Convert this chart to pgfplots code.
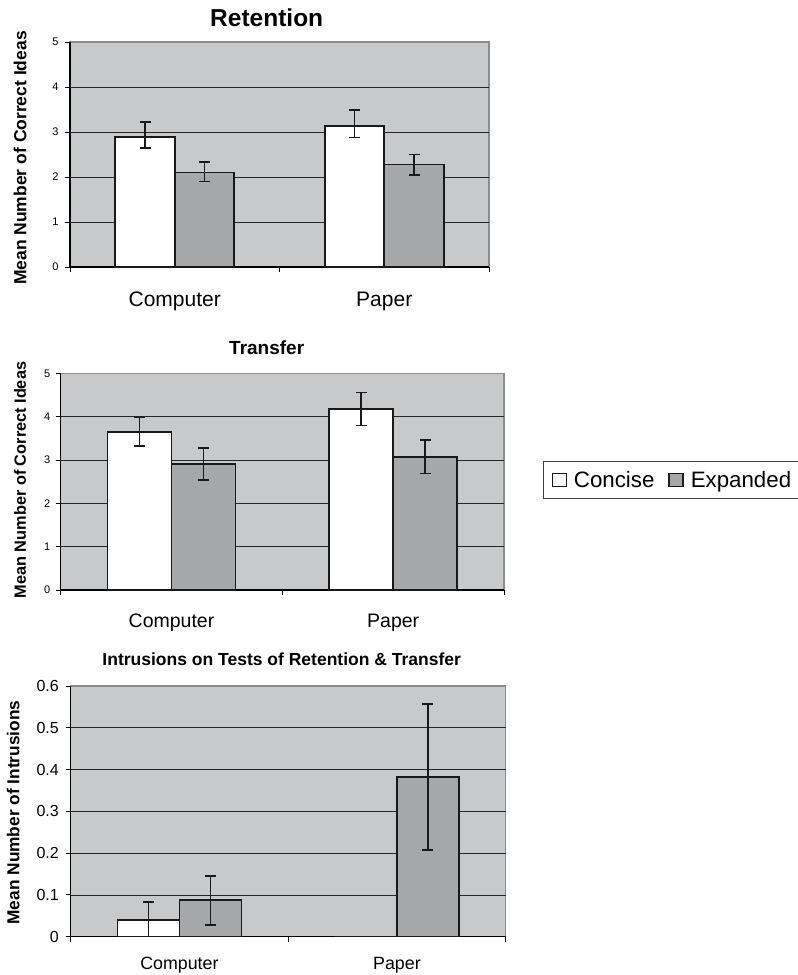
\documentclass[border=0pt]{standalone}
\usepackage{fontspec}
\setmainfont{Liberation Sans}
\usepackage{pgfplots}
\pgfplotsset{compat=1.18}
\definecolor{bgc}{RGB}{200,201,203}
\definecolor{expc}{RGB}{166,167,169}
\definecolor{framec}{RGB}{140,140,140}
\newcommand{\fs}[1]{\fontsize{#1}{#1}\selectfont}
\begin{document}
\begin{tikzpicture}
\path[use as bounding box] (0pt,0pt) rectangle (798pt,-975pt);
\pgfplotsset{
  panel/.style={
    scale only axis,
    anchor=south west,
    xmin=-0.5, xmax=1.5,
    ymin=0,
    ybar=0pt,
    axis background/.style={fill=bgc, draw=framec, line width=1.3pt},
    axis x line*=bottom, axis y line*=left,
    axis line style={line width=1.3pt, black, -},
    xtick={-0.5,0.5,1.5}, xticklabels={},
    extra x ticks={0,1}, extra x tick labels={Computer,Paper},
    tick align=outside,
    major tick length=5pt,
    major tick style={line width=1pt, black},
    /pgf/number format/assume math mode=true,
    every axis plot/.append style={draw=black!90, line width=1.8pt},
    error bars/y dir=both, error bars/y explicit,
    error bars/error mark=|,
    error bars/error bar style={line width=1.6pt, black!90, solid},
    error bars/error mark options={mark size=5.5pt, line width=1.6pt, black!90, solid},
    legend image code/.code={\draw[##1, line width=1.3pt] (0pt,-6.8pt) rectangle (14pt,6.8pt);},
  }
}
% ---------- Retention ----------
\begin{axis}[panel,
  at={(70pt,-267pt)}, width=419pt, height=225pt,
  ymax=5, ytick={0,1,2,3,4,5},
  extra y ticks={1,2,3,4}, extra y tick labels={},
  extra y tick style={grid=major, major grid style={line width=0.8pt, black!85}},
  yticklabel style={font=\fs{11}, xshift=-3pt},
  extra x tick style={major tick length=0pt, tick label style={font=\fs{21}, anchor=base, yshift=-39.7pt}},
  bar width=59.5pt]
\addplot[fill=white] coordinates {(0,2.89) += (0,0.33) -= (0,0.24) (1,3.13) += (0,0.36) -= (0,0.25)};
\addplot[fill=expc] coordinates {(0,2.10) += (0,0.23) -= (0,0.20) (1,2.28) += (0,0.22) -= (0,0.23)};
\end{axis}
\node[font=\bfseries\fs{24.5}] at (266.7pt,-17.5pt) {Retention};
\node[rotate=90, font=\bfseries\fs{17.5}] at (20pt,-158pt) {Mean Number of Correct Ideas};
% ---------- Transfer ----------
\begin{axis}[panel,
  at={(60.7pt,-590pt)}, width=443.3pt, height=216.5pt,
  ymax=5, ytick={0,1,2,3,4,5},
  extra y ticks={1,2,3,4}, extra y tick labels={},
  extra y tick style={grid=major, major grid style={line width=0.8pt, black!85}},
  yticklabel style={font=\fs{11}, xshift=-2pt},
  extra x tick style={major tick length=0pt, tick label style={font=\fs{19.5}, anchor=base, yshift=-37pt}},
  bar width=64pt,
  legend columns=2,
  legend style={at={(1.088,0.508)}, anchor=west, draw=black!75, line width=1.2pt,
    fill=white, inner xsep=8pt, inner ysep=7.5pt, font=\fs{22.3},
    /tikz/every odd column/.append style={column sep=5pt},
    /tikz/every even column/.append style={column sep=12pt}},
  ]
\addplot[fill=white] coordinates {(0,3.65) +- (0,0.33) (1,4.18) +- (0,0.38)};
\addplot[fill=expc] coordinates {(0,2.91) +- (0,0.37) (1,3.08) +- (0,0.39)};
\addlegendentry{Concise}
\addlegendentry{Expanded}
\end{axis}
\node[font=\bfseries\fs{19}] at (266.7pt,-348pt) {Transfer};
\node[rotate=90, font=\bfseries\fs{16.3}] at (20pt,-480pt) {Mean Number of Correct Ideas};
% ---------- Intrusions ----------
\begin{axis}[panel,
  at={(70.7pt,-936.7pt)}, width=435pt, height=250.7pt,
  ymax=0.6, ytick={0,0.1,0.2,0.3,0.4,0.5,0.6},
  extra y ticks={0.1,0.2,0.3,0.4,0.5}, extra y tick labels={},
  extra y tick style={grid=major, major grid style={line width=0.8pt, black!85}},
  yticklabel style={font=\fs{16}, xshift=-3.4pt, /pgf/number format/.cd, fixed, precision=1},
  extra x tick style={major tick length=0pt, tick label style={font=\fs{17.8}, anchor=base, yshift=-33pt}},
  bar width=62pt]
\addplot[fill=white] coordinates {(0,0.04) += (0,0.043) -= (0,0.04) (1,0) +- (0,0)};
\addplot[fill=expc] coordinates {(0,0.087) +- (0,0.059) (1,0.382) +- (0,0.175)};
\end{axis}
\node[font=\bfseries\fs{17.5}] at (281.7pt,-659.3pt) {Intrusions on Tests of Retention \& Transfer};
\node[rotate=90, font=\bfseries\fs{17.3}] at (13.3pt,-812.5pt) {Mean Number of Intrusions};
\end{tikzpicture}
\end{document}
